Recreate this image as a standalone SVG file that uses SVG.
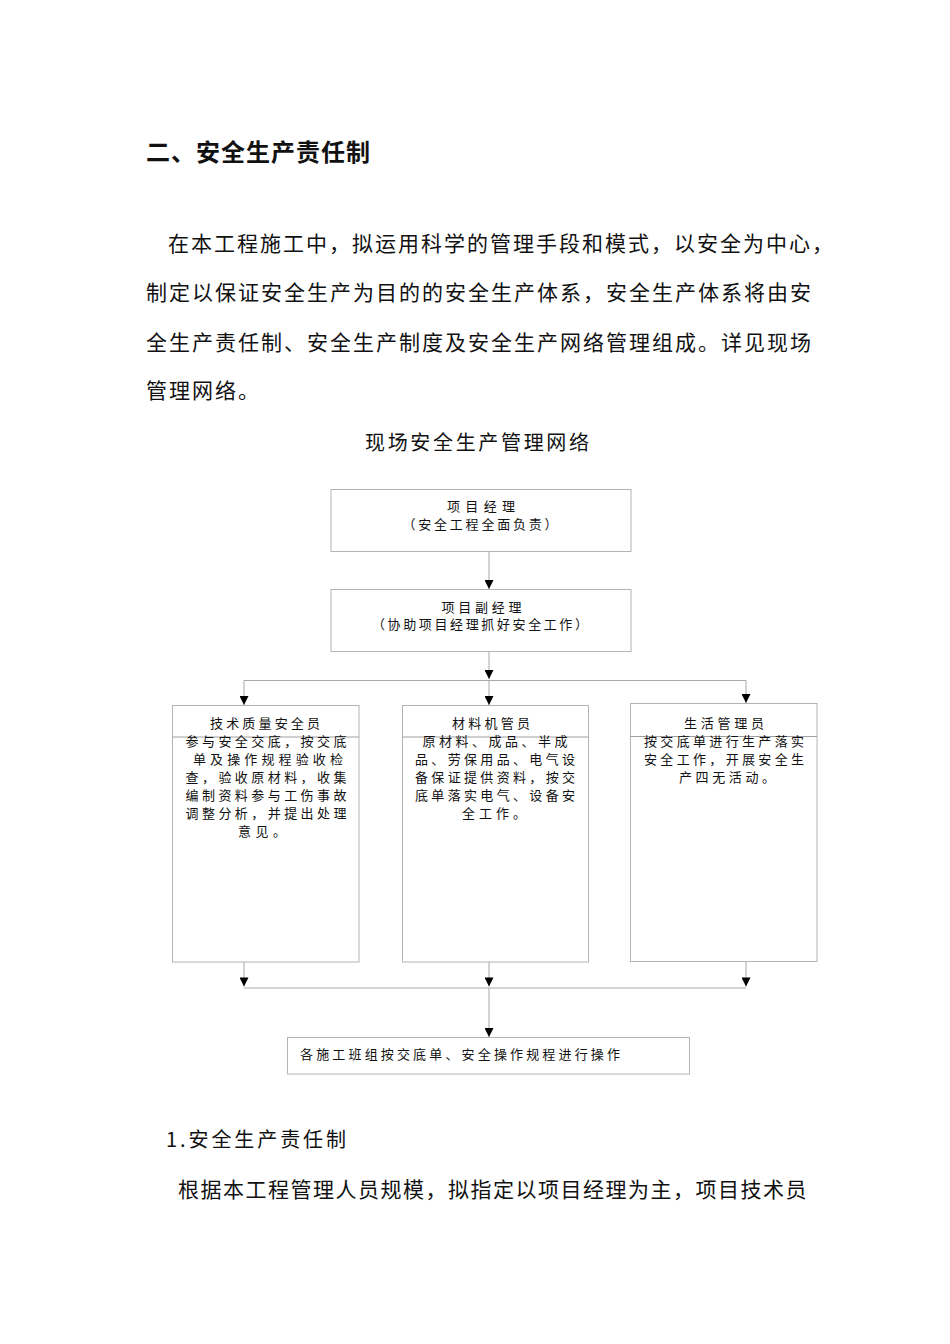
<svg xmlns="http://www.w3.org/2000/svg" width="950" height="1344" viewBox="0 0 950 1344">
<defs>
<style>
.doc{font-family:"Noto Sans CJK SC","Liberation Sans",sans-serif;fill:#111;}
.h{font-size:24px;font-weight:bold;letter-spacing:1px;}
.p{font-size:21px;letter-spacing:2px;}
.t{font-size:20px;}
.n{font-family:"Noto Sans CJK SC","Liberation Sans",sans-serif;font-size:13px;fill:#111;}
.box{fill:#fff;stroke:#b4b4b4;stroke-width:1;}
.stray{stroke:#a0a0a0;stroke-width:1;}
.con{stroke:#a8a8a8;stroke-width:1;fill:none;}
</style>
<marker id="ah" viewBox="0 0 10 10" refX="10" refY="5" markerWidth="10" markerHeight="9" markerUnits="userSpaceOnUse" orient="auto">
<path d="M0,0 L10,5 L0,10 z" fill="#000"/>
</marker>
</defs>
<rect width="950" height="1344" fill="#fff"/>

<g id="page-text" class="doc">
<text class="h" x="146" y="161">二、安全生产责任制</text>
<text class="p" x="168" y="250.5">在本工程施工中，拟运用科学的管理手段和模式，以安全为中心，</text>
<text class="p" x="146" y="300">制定以保证安全生产为目的的安全生产体系，安全生产体系将由安</text>
<text class="p" x="146" y="350">全生产责任制、安全生产制度及安全生产网络管理组成。详见现场</text>
<text class="p" x="146" y="398">管理网络。</text>
<text class="t" x="365" y="449.5" textLength="224" lengthAdjust="spacing">现场安全生产管理网络</text>
<text class="t" x="166" y="1147" textLength="180" lengthAdjust="spacing">1.安全生产责任制</text>
<text class="p" x="178" y="1197" style="letter-spacing:1.5px">根据本工程管理人员规模，拟指定以项目经理为主，项目技术员</text>
</g>

<g id="connectors">
<line class="con" x1="489" y1="551" x2="489" y2="589" marker-end="url(#ah)"/>
<line class="con" x1="489" y1="651" x2="489" y2="679" marker-end="url(#ah)"/>
<line class="con" x1="244" y1="680.5" x2="746" y2="680.5"/>
<line class="con" x1="244" y1="680.5" x2="244" y2="705" marker-end="url(#ah)"/>
<line class="con" x1="489" y1="680.5" x2="489" y2="705" marker-end="url(#ah)"/>
<line class="con" x1="746" y1="680.5" x2="746" y2="703" marker-end="url(#ah)"/>
<line class="con" x1="244" y1="962" x2="244" y2="986.5" marker-end="url(#ah)"/>
<line class="con" x1="489" y1="962" x2="489" y2="986.5" marker-end="url(#ah)"/>
<line class="con" x1="746" y1="961" x2="746" y2="986.5" marker-end="url(#ah)"/>
<line class="con" x1="244" y1="988" x2="746" y2="988"/>
<line class="con" x1="489" y1="988" x2="489" y2="1037" marker-end="url(#ah)"/>
</g>

<g id="n-manager">
<rect class="box" x="331" y="489.5" width="300" height="62"/>
<text class="n" x="481" y="511" text-anchor="middle" textLength="68" lengthAdjust="spacing">项目经理</text>
<text class="n" x="480" y="529" text-anchor="middle" textLength="155" lengthAdjust="spacing">（安全工程全面负责）</text>
</g>

<g id="n-deputy">
<rect class="box" x="331" y="589.5" width="300" height="62"/>
<text class="n" x="481.5" y="612" text-anchor="middle" textLength="80" lengthAdjust="spacing">项目副经理</text>
<text class="n" x="480" y="629" text-anchor="middle" textLength="216" lengthAdjust="spacing">（协助项目经理抓好安全工作）</text>
</g>

<g id="n-quality">
<rect class="box" x="172.5" y="705.5" width="186.5" height="256.5"/>
<line class="stray" x1="172.5" y1="737" x2="359" y2="737"/>
<g class="n" text-anchor="middle">
<text x="265" y="728" textLength="110" lengthAdjust="spacing">技术质量安全员</text>
<text x="266" y="746" textLength="161" lengthAdjust="spacing">参与安全交底，按交底</text>
<text x="268" y="764" textLength="150" lengthAdjust="spacing">单及操作规程验收检</text>
<text x="266" y="782" textLength="161" lengthAdjust="spacing">查，验收原材料，收集</text>
<text x="266" y="800" textLength="161" lengthAdjust="spacing">编制资料参与工伤事故</text>
<text x="266" y="818" textLength="161" lengthAdjust="spacing">调整分析，并提出处理</text>
<text x="262" y="836" textLength="48" lengthAdjust="spacing">意见。</text>
</g>
</g>

<g id="n-material">
<rect class="box" x="402.5" y="705.5" width="186" height="256.5"/>
<line class="stray" x1="402.5" y1="737" x2="588.5" y2="737"/>
<g class="n" text-anchor="middle">
<text x="491" y="728" textLength="78" lengthAdjust="spacing">材料机管员</text>
<text x="495" y="746" textLength="145" lengthAdjust="spacing">原材料、成品、半成</text>
<text x="495" y="764" textLength="160" lengthAdjust="spacing">品、劳保用品、电气设</text>
<text x="495" y="782" textLength="160" lengthAdjust="spacing">备保证提供资料，按交</text>
<text x="495" y="800" textLength="160" lengthAdjust="spacing">底单落实电气、设备安</text>
<text x="494" y="818" textLength="64" lengthAdjust="spacing">全工作。</text>
</g>
</g>

<g id="n-life">
<rect class="box" x="630.5" y="703.5" width="186.5" height="258"/>
<line class="stray" x1="630.5" y1="736.5" x2="817" y2="736.5"/>
<g class="n" text-anchor="middle">
<text x="724" y="728" textLength="80" lengthAdjust="spacing">生活管理员</text>
<text x="724" y="746" textLength="160" lengthAdjust="spacing">按交底单进行生产落实</text>
<text x="724" y="764" textLength="160" lengthAdjust="spacing">安全工作，开展安全生</text>
<text x="727" y="782" textLength="96" lengthAdjust="spacing">产四无活动。</text>
</g>
</g>

<g id="n-teams">
<rect class="box" x="287.5" y="1037.5" width="402" height="36.5"/>
<text class="n" x="300" y="1059" textLength="320" lengthAdjust="spacing">各施工班组按交底单、安全操作规程进行操作</text>
</g>
</svg>
